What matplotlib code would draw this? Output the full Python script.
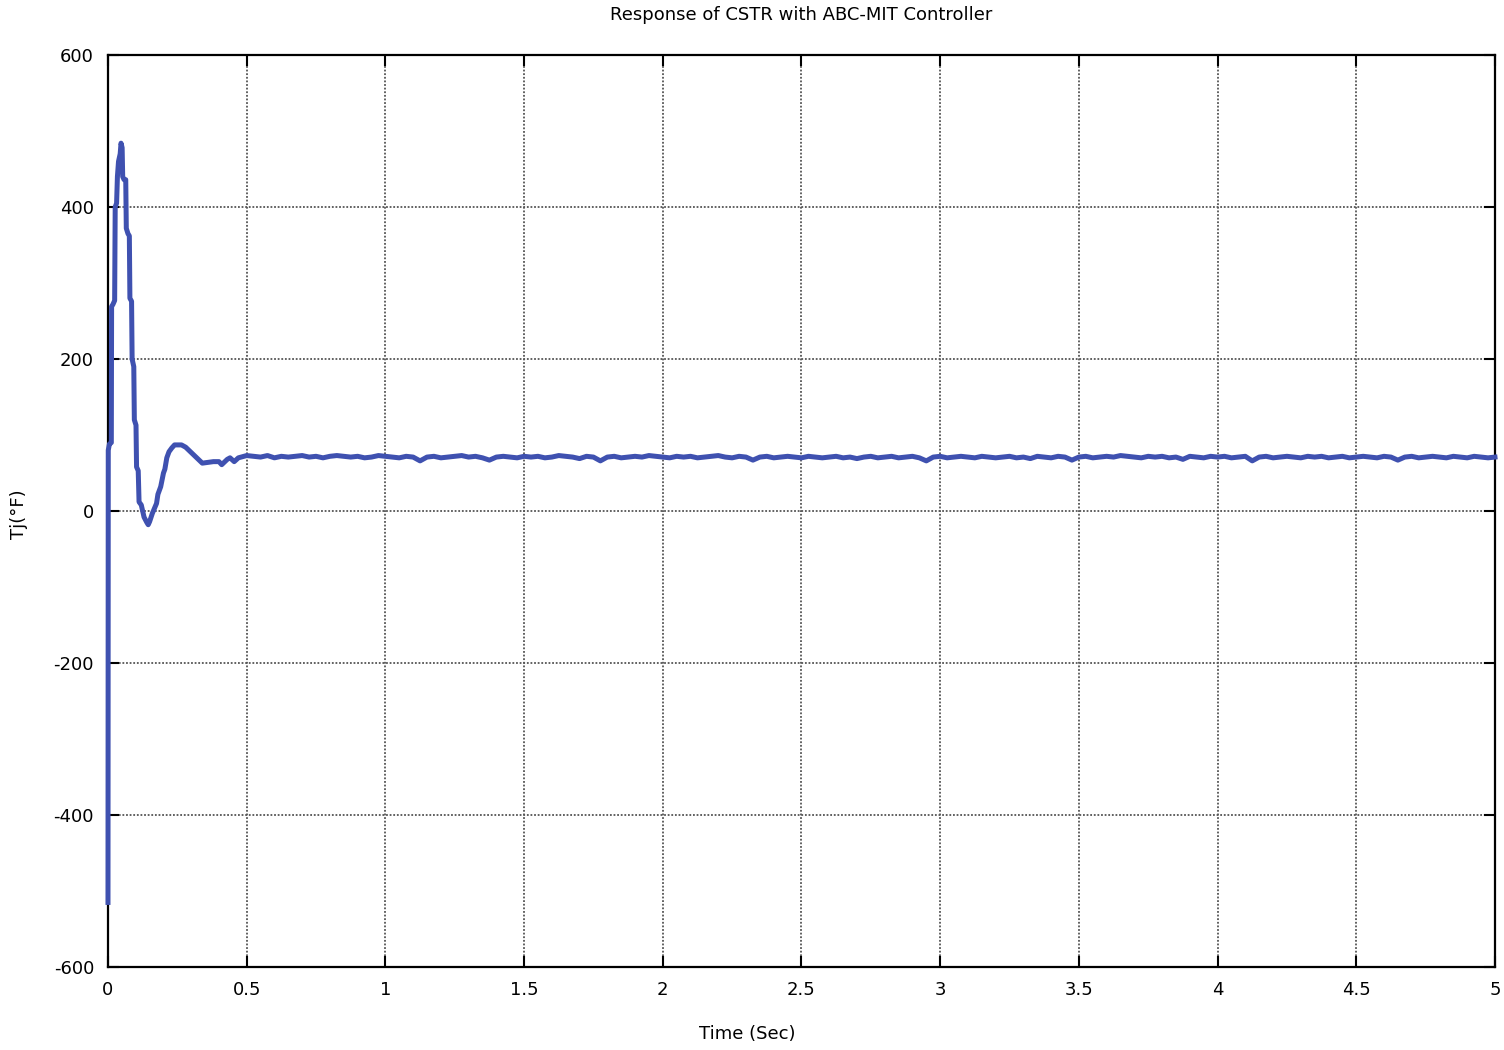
import numpy as np
import matplotlib
matplotlib.use('Agg')
import matplotlib.pyplot as plt

plt.rcParams['axes.unicode_minus'] = False

# transient part of the response
t_start = [0, 0.001, 0.005, 0.012, 0.013, 0.018, 0.024, 0.026, 0.031, 0.034,
           0.038, 0.044, 0.047, 0.051, 0.053, 0.058, 0.064, 0.066, 0.072, 0.077,
           0.079, 0.085, 0.087, 0.093, 0.095, 0.101, 0.103, 0.109, 0.112, 0.12,
           0.13, 0.14, 0.145, 0.15, 0.16, 0.175, 0.18, 0.19, 0.2, 0.205,
           0.212, 0.22, 0.23, 0.24, 0.265, 0.28, 0.3, 0.32, 0.34, 0.36,
           0.38, 0.4, 0.41, 0.43, 0.44, 0.455, 0.47, 0.5]
y_start = [-515, 80, 88, 90, 269, 272, 277, 400, 405, 440,
           460, 470, 484, 478, 440, 436, 436, 372, 365, 362,
           280, 276, 200, 190, 120, 113, 58, 53, 12, 8,
           -8, -15, -18, -14, -3, 10, 22, 32, 50, 55,
           70, 78, 83, 87, 87, 84, 77, 70, 63, 64,
           65, 65, 61, 68, 70, 65, 70, 73]

# steady part, one sample every 0.025 s from 0.525 to 5.0
t_steady = np.arange(1, 181) * 0.025 + 0.5
y_steady = [
    72, 71, 73, 70, 72, 71, 72, 73, 71, 72, 70, 72, 73, 72, 71, 72, 70, 71, 73, 72,
    71, 70, 72, 71, 66, 71, 72, 70, 71, 72, 73, 71, 72, 70, 67, 71, 72, 71, 70, 72,
    71, 72, 70, 71, 73, 72, 71, 69, 72, 71, 66, 71, 72, 70, 71, 72, 71, 73, 72, 71,
    70, 72, 71, 72, 70, 71, 72, 73, 71, 70, 72, 71, 67, 71, 72, 70, 71, 72, 71, 70,
    72, 71, 70, 71, 72, 70, 71, 69, 71, 72, 70, 71, 72, 70, 71, 72, 70, 66, 71, 72,
    70, 71, 72, 71, 70, 72, 71, 70, 71, 72, 70, 71, 69, 72, 71, 70, 72, 71, 67, 71,
    72, 70, 71, 72, 71, 73, 72, 71, 70, 72, 71, 72, 70, 71, 68, 72, 71, 70, 72, 71,
    72, 70, 71, 72, 66, 71, 72, 70, 71, 72, 71, 70, 72, 71, 72, 70, 71, 72, 70, 71,
    72, 71, 70, 72, 71, 67, 71, 72, 70, 71, 72, 71, 70, 72, 71, 70, 72, 71, 70, 71]

t = np.concatenate([t_start, t_steady])
y = np.concatenate([y_start, y_steady])

x_ticks = [0, 0.5, 1, 1.5, 2, 2.5, 3, 3.5, 4, 4.5, 5]
y_ticks = [-600, -400, -200, 0, 200, 400, 600]

fig = plt.figure(figsize=(15.04, 10.5), dpi=100)
ax = fig.add_axes([0.0718, 0.079, 0.9222, 0.8686])
ax.plot(t, y, color='#3f51b0', linewidth=3.6, zorder=3, clip_on=False)

ax.set_xlim(0, 5)
ax.set_ylim(-600, 600)
ax.set_xticks(x_ticks)
ax.set_xticklabels(['0', '0.5', '1', '1.5', '2', '2.5', '3', '3.5', '4', '4.5', '5'])
ax.set_yticks(y_ticks)
ax.grid(True, linestyle=(0, (1, 1)), color='#555555', linewidth=1.3)
ax.tick_params(direction='in', length=8, width=1.5, top=True, right=True,
               labelsize=13, pad=10)
for s in ax.spines.values():
    s.set_linewidth(1.6)

ax.set_title('Response of CSTR with ABC-MIT Controller', fontsize=13, pad=25)
ax.set_xlabel('Time (Sec)', fontsize=13)
ax.set_ylabel('Tj(°F)', fontsize=13)
ax.xaxis.set_label_coords(0.461, -0.063)
ax.yaxis.set_label_coords(-0.058, 0.496)

plt.savefig('out.png')
